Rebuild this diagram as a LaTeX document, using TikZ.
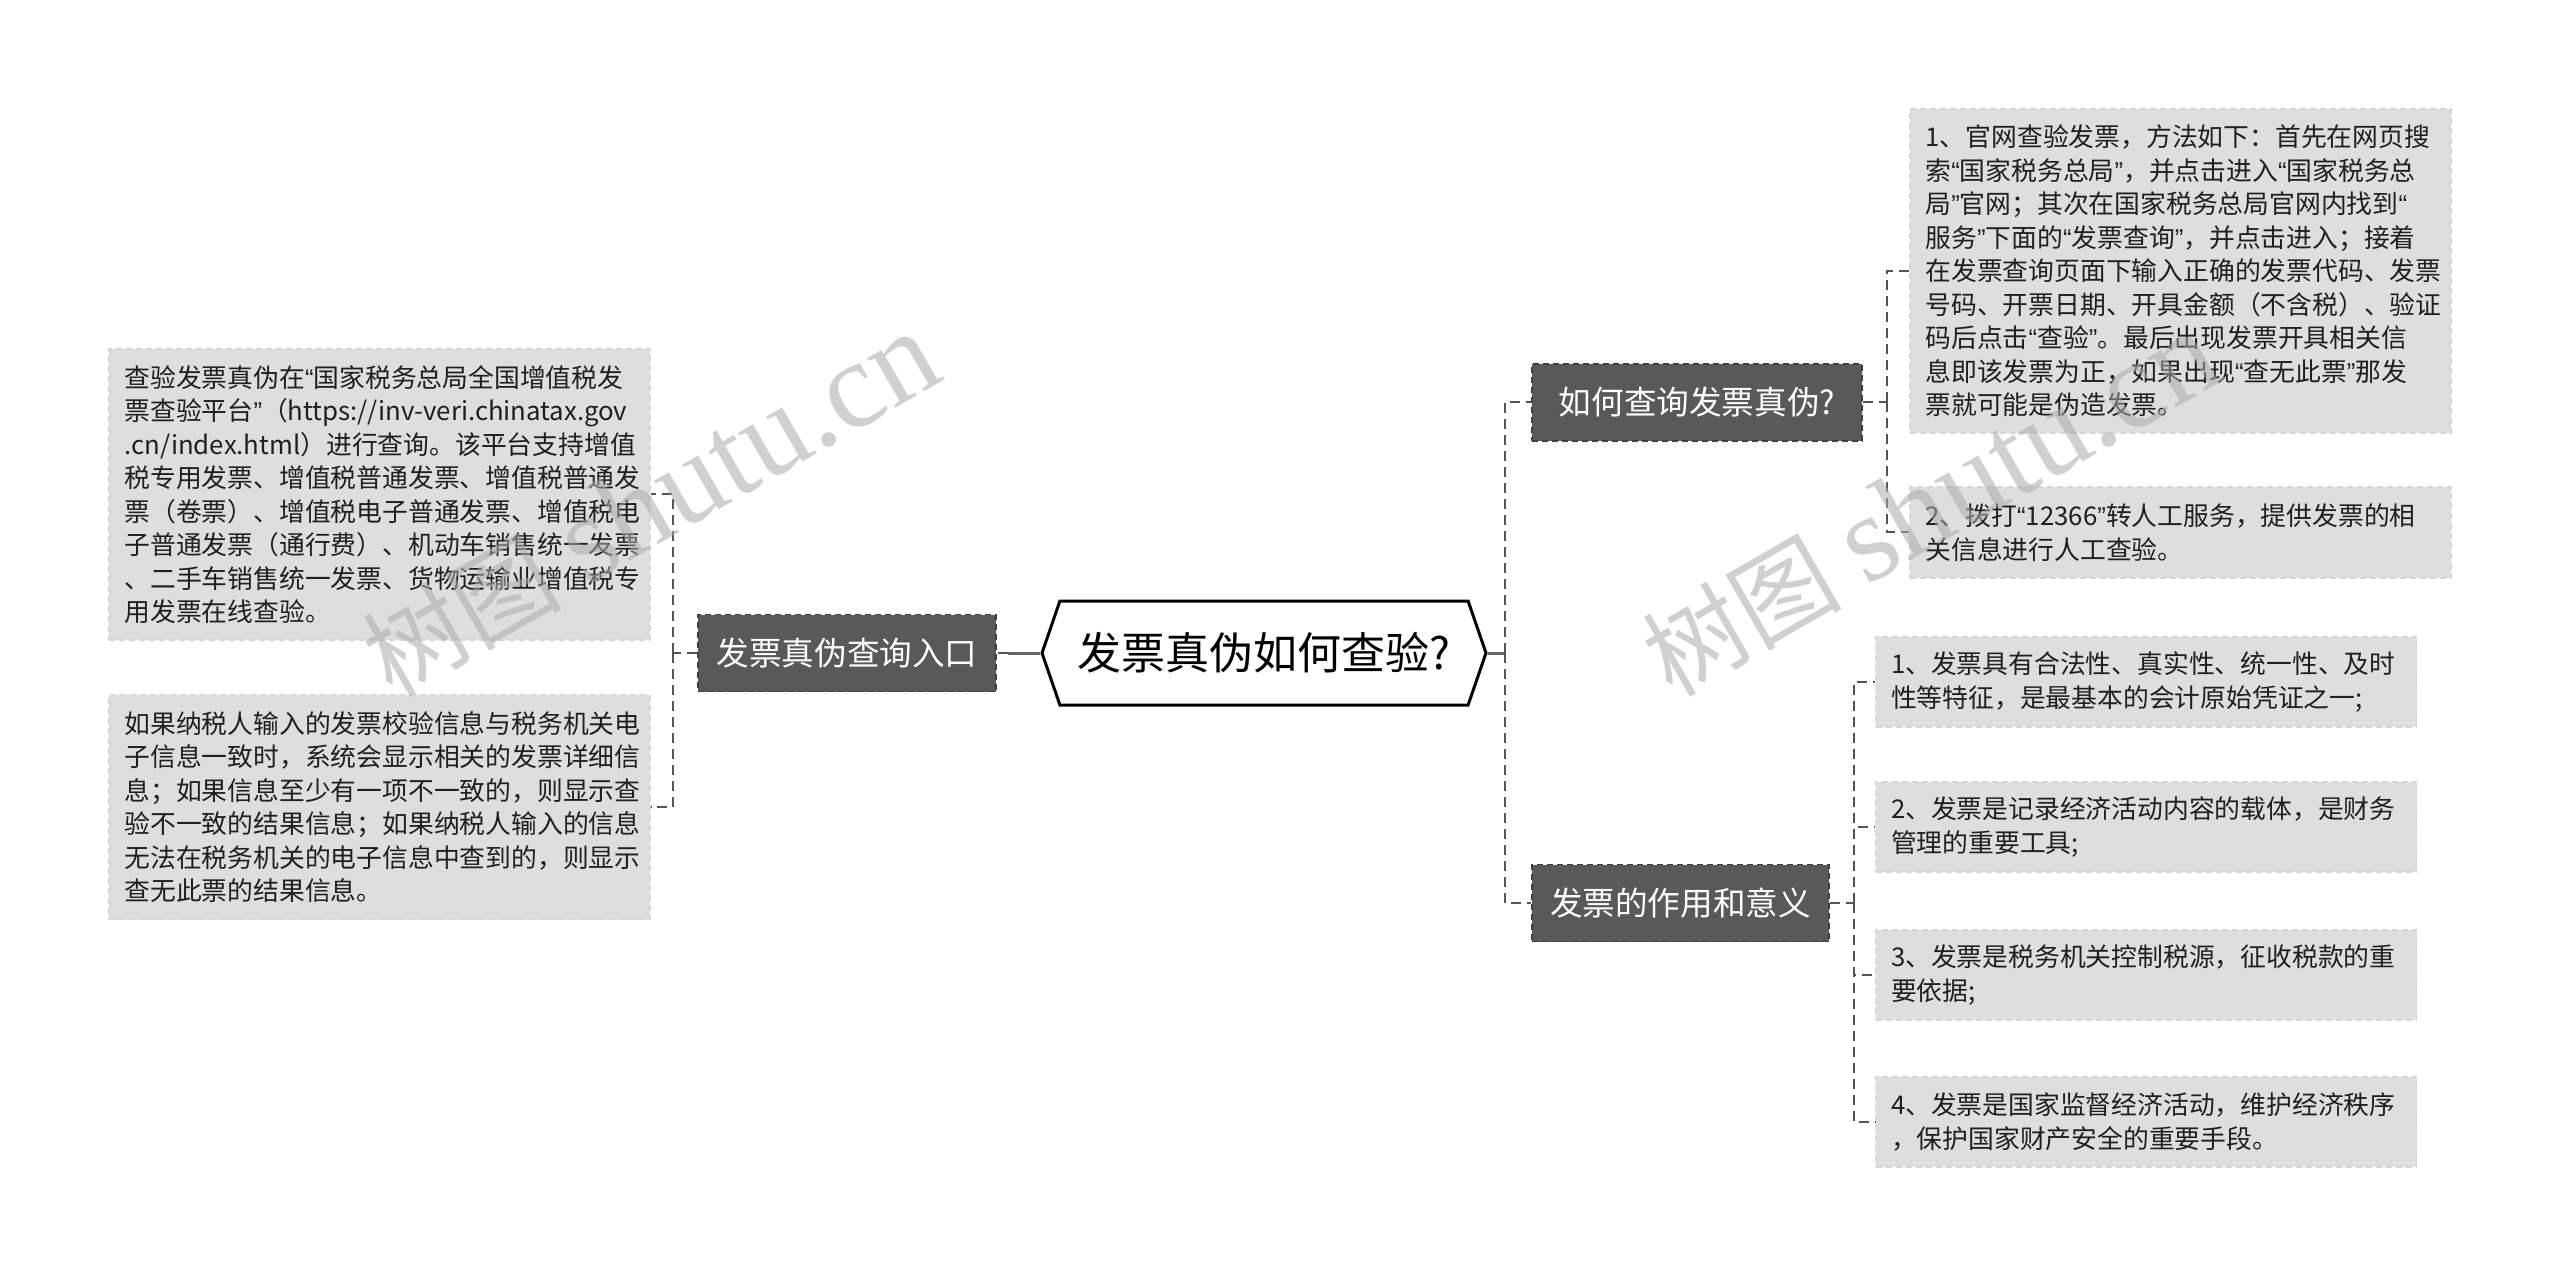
\documentclass[tikz,border=0pt]{standalone}
\usepackage{fontspec}
\setmainfont{Noto Sans CJK SC}
\newfontfamily\qfont{Liberation Sans}
\newfontfamily\wmlatin{Liberation Serif}
\usetikzlibrary{shapes.symbols}
\definecolor{branchgray}{HTML}{595959}
\definecolor{leafgray}{HTML}{DEDEDE}
\definecolor{linkgray}{HTML}{555555}
\newcommand{\oq}{{\qfont “}}
\newcommand{\cq}{{\qfont ”}}
\begin{document}
\begin{tikzpicture}[x=0.5pt, y=-0.5pt,
    leaf/.style={fill=leafgray, draw=black!16, line width=0.7pt, dash pattern=on 3pt off 2pt,
        text=black!88, font=\fontsize{12.9}{16.75}\selectfont, align=left,
        text width=255pt, inner xsep=7.75pt, inner ysep=0pt},
    branch/.style={fill=branchgray, draw=black!75, line width=0.7pt, dash pattern=on 3pt off 2pt,
        text=white, font=\fontsize{16.3}{20}\selectfont, minimum height=38.5pt, inner sep=0pt},
    root/.style={signal, signal to=west and east, signal pointer angle=142, draw=black,
        line width=1.5pt, fill=white, font=\fontsize{22}{26}\selectfont,
        minimum width=222pt, minimum height=52pt, inner sep=0pt},
    link/.style={draw=linkgray, line width=1pt, dash pattern=on 5pt off 3pt},
    rootlink/.style={draw=black!60, line width=1.5pt},
    wmark/.style={text=black!33, opacity=0.55, rotate=30, inner sep=0pt}]
    \fill[white] (0,0) rectangle (2560,1278);
    \useasboundingbox (0,0) rectangle (2560,1278);
    % centre
    \node[root] (root) at (1264,653) {发票真伪如何查验?};
    % left side
    \node[branch, minimum width=149pt] (lbranch) at (847,653) {发票真伪查询入口};
    \node[leaf, minimum height=145.5pt] (leafL1) at (379.5,494.5) {查验发票真伪在\oq 国家税务总局全国增值税发\\票查验平台\cq（https://inv-veri.chinatax.gov\\.cn/index.html）进行查询。该平台支持增值\\税专用发票、增值税普通发票、增值税普通发\\票（卷票）、增值税电子普通发票、增值税电\\子普通发票（通行费）、机动车销售统一发票\\、二手车销售统一发票、货物运输业增值税专\\用发票在线查验。};
    \node[leaf, minimum height=112.5pt] (leafL2) at (379.5,807) {如果纳税人输入的发票校验信息与税务机关电\\子信息一致时，系统会显示相关的发票详细信\\息；如果信息至少有一项不一致的，则显示查\\验不一致的结果信息；如果纳税人输入的信息\\无法在税务机关的电子信息中查到的，则显示\\查无此票的结果信息。};
    % right side
    \node[branch, minimum width=165pt] (rbranch1) at (1697,402.5) {如何查询发票真伪?};
    \node[branch, minimum width=148.5pt] (rbranch2) at (1680.5,903) {发票的作用和意义};
    \node[leaf, minimum height=162pt] (leafR1) at (2180.5,271) {1、官网查验发票，方法如下：首先在网页搜\\索\oq 国家税务总局\cq，并点击进入\oq 国家税务总\\局\cq 官网；其次在国家税务总局官网内找到\oq\\服务\cq 下面的\oq 发票查询\cq，并点击进入；接着\\在发票查询页面下输入正确的发票代码、发票\\号码、开票日期、开具金额（不含税）、验证\\码后点击\oq 查验\cq。最后出现发票开具相关信\\息即该发票为正，如果出现\oq 查无此票\cq 那发\\票就可能是伪造发票。};
    \node[leaf, minimum height=45.5pt] (leafR2) at (2180.5,532.5) {2、拨打\oq 12366\cq 转人工服务，提供发票的相\\关信息进行人工查验。};
    \node[leaf, minimum height=45pt] (leafS1) at (2146,682) {1、发票具有合法性、真实性、统一性、及时\\性等特征，是最基本的会计原始凭证之一;};
    \node[leaf, minimum height=45pt] (leafS2) at (2146,827) {2、发票是记录经济活动内容的载体，是财务\\管理的重要工具;};
    \node[leaf, minimum height=45pt] (leafS3) at (2146,975) {3、发票是税务机关控制税源，征收税款的重\\要依据;};
    \node[leaf, minimum height=45pt] (leafS4) at (2146,1122) {4、发票是国家监督经济活动，维护经济秩序\\，保护国家财产安全的重要手段。};
    % connectors
    \coordinate (lmid) at ([xshift=-16pt]root.west);
    \coordinate (lfork) at ([xshift=-12pt]lbranch.west);
    \coordinate (rfork) at ([xshift=8.5pt]root.east);
    \coordinate (r1fork) at ([xshift=12pt]rbranch1.east);
    \coordinate (r2fork) at ([xshift=12pt]rbranch2.east);
    \draw[rootlink] (root.west) -- (lmid);
    \draw[link] (lmid) -- (lbranch.east);
    \draw[link] (lbranch.west) -- (lfork);
    \draw[link] (lfork) |- (leafL1.east);
    \draw[link] (lfork) |- (leafL2.east);
    \draw[rootlink] (root.east) -- (rfork);
    \draw[link] (rfork) |- (rbranch1.west);
    \draw[link] (rfork) |- (rbranch2.west);
    \draw[link] (rbranch1.east) -- (r1fork);
    \draw[link] (r1fork) |- (leafR1.west);
    \draw[link] (r1fork) |- (leafR2.west);
    \draw[link] (rbranch2.east) -- (r2fork);
    \foreach \s in {S1,S2,S3,S4}
        \draw[link] (r2fork) |- (leaf\s.west);
    % watermarks
    \node[wmark] (wm1) at (650,505) {{\fontsize{50}{50}\selectfont 树图}\hspace{12pt}{\wmlatin\fontsize{62}{62}\selectfont shutu.cn}};
    \node[wmark] (wm2) at (1930,505) {{\fontsize{50}{50}\selectfont 树图}\hspace{12pt}{\wmlatin\fontsize{62}{62}\selectfont shutu.cn}};
\end{tikzpicture}
\end{document}
